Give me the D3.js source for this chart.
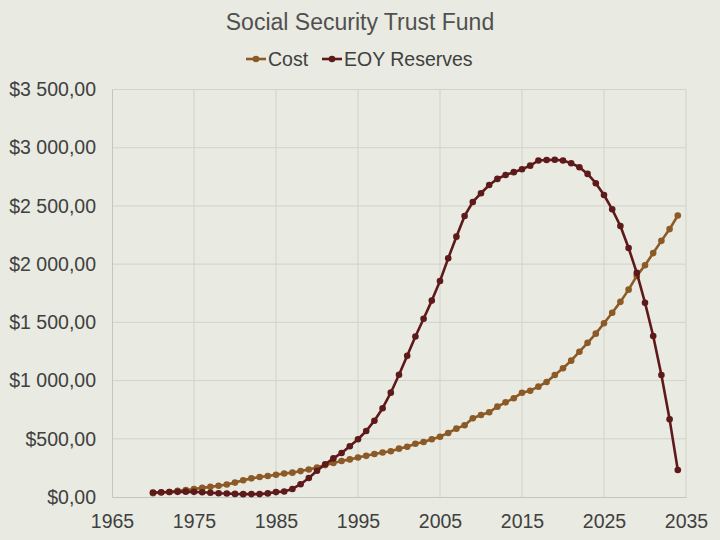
<!DOCTYPE html>
<html>
<head>
<meta charset="utf-8">
<script src="https://cdn.jsdelivr.net/npm/d3@7"></script>
<style>
  html, body { margin: 0; padding: 0; background: #e9eae1; }
  svg { display: block; }
</style>
</head>
<body>
<svg id="chart" width="720" height="540"></svg>
<script>
const years = d3.range(1970, 2035);
const cost = [33, 38.5, 43.3, 53.1, 60.6, 69.2, 78.2, 87.3, 96.0, 107.3,
  123.6, 144.4, 160.1, 171.2, 180.4, 190.6, 201.5, 209.1, 222.5, 236.2,
  253.1, 274.2, 291.9, 308.8, 323.0, 339.8, 353.6, 369.1, 382.3, 392.9,
  415.1, 432, 458, 472, 496, 518, 550, 587, 616, 676,
  704, 728, 776, 813, 848, 896, 913, 948, 988, 1048,
  1106, 1171, 1248, 1324, 1403, 1492, 1583, 1676, 1781, 1899,
  1990, 2095, 2200, 2301, 2418];
const reserves = [38.1, 40.4, 42.8, 44.4, 45.9, 44.3, 41.1, 35.9, 31.7, 30.3,
  26.5, 24.5, 24.8, 24.9, 31.1, 42.2, 46.9, 68.8, 109.8, 162.9,
  225.3, 280.7, 331.5, 378.3, 436.4, 496.1, 567.0, 655.5, 762.5, 896.1,
  1049.4, 1212.5, 1378.0, 1530.8, 1686.8, 1855, 2050, 2236, 2414, 2534,
  2609, 2680, 2732, 2766, 2790, 2815, 2846, 2890, 2895, 2896,
  2890, 2867, 2832, 2775, 2695, 2594, 2471, 2328, 2139, 1925,
  1669, 1383, 1048, 667, 232];
const xTicks = [1965, 1975, 1985, 1995, 2005, 2015, 2025, 2035];
const yTicks = [0, 500, 1000, 1500, 2000, 2500, 3000, 3500];
const yTickLabels = ["$0,00", "$500,00", "$1 000,00", "$1 500,00", "$2 000,00", "$2 500,00", "$3 000,00", "$3 500,00"];
const seriesNames = ["Cost", "EOY Reserves"];
const seriesColors = ["#8b5a26", "#5e1a1a"];

const svg = d3.select("#chart");
const W = 720, H = 540;
const m = { left: 112, right: 686, top: 89.5, bottom: 497 };

svg.append("rect").attr("width", W).attr("height", H).attr("fill", "#e9eae1");

const x = d3.scaleLinear().domain([1965, 2035]).range([m.left, m.right]);
const y = d3.scaleLinear().domain([0, 3500]).range([m.bottom, m.top]);

const font = "'Liberation Sans', Arial, sans-serif";
const textColor = "#404040";
const fs = 19.5;

// gridlines
const g = svg.append("g");
g.selectAll("line.h").data(yTicks.slice(1)).join("line")
  .attr("x1", m.left).attr("x2", m.right)
  .attr("y1", d => y(d)).attr("y2", d => y(d))
  .attr("stroke", "#d2d3cb").attr("stroke-width", 1);
g.selectAll("line.v").data(xTicks.slice(1)).join("line")
  .attr("x1", d => x(d)).attr("x2", d => x(d))
  .attr("y1", m.top).attr("y2", m.bottom)
  .attr("stroke", "#d2d3cb").attr("stroke-width", 1);

// axes
const yAxis = d3.axisLeft(y).tickValues(yTicks).tickSize(0).tickPadding(16)
  .tickFormat((d, i) => yTickLabels[i]);
const ya = svg.append("g").attr("transform", `translate(${m.left},0)`).call(yAxis);
ya.select(".domain").attr("stroke", "#c4c5bd");
ya.selectAll("text").attr("font-family", font).attr("font-size", fs).attr("fill", textColor);

const xAxis = d3.axisBottom(x).tickValues(xTicks).tickSize(0).tickPadding(17)
  .tickFormat(d3.format("d"));
const xa = svg.append("g").attr("transform", `translate(0,${m.bottom})`).call(xAxis);
xa.select(".domain").attr("stroke", "#c4c5bd");
xa.selectAll("text").attr("font-family", font).attr("font-size", fs).attr("fill", textColor);

// series
const series = [cost, reserves];
const line = d3.line().x((d, i) => x(years[i])).y(d => y(d));
series.forEach((vals, si) => {
  svg.append("path").datum(vals)
    .attr("d", line).attr("fill", "none")
    .attr("stroke", seriesColors[si]).attr("stroke-width", 2.6)
    .attr("stroke-linejoin", "round");
  svg.append("g").selectAll("circle").data(vals).join("circle")
    .attr("cx", (d, i) => x(years[i])).attr("cy", d => y(d))
    .attr("r", 3.3).attr("fill", seriesColors[si]);
});

// title
svg.append("text").attr("x", 360).attr("y", 30).attr("text-anchor", "middle")
  .attr("font-family", font).attr("font-size", 23).attr("fill", "#505050")
  .text("Social Security Trust Fund");

// legend
const legendItems = [{ x: 246, tx: 268 }, { x: 322, tx: 344 }];
legendItems.forEach((li, i) => {
  svg.append("line").attr("x1", li.x).attr("x2", li.x + 20).attr("y1", 59).attr("y2", 59)
    .attr("stroke", seriesColors[i]).attr("stroke-width", 2.6);
  svg.append("circle").attr("cx", li.x + 10).attr("cy", 59).attr("r", 3.3).attr("fill", seriesColors[i]);
  svg.append("text").attr("x", li.tx).attr("y", 66)
    .attr("font-family", font).attr("font-size", fs).attr("fill", textColor)
    .text(seriesNames[i]);
});
</script>
</body>
</html>
